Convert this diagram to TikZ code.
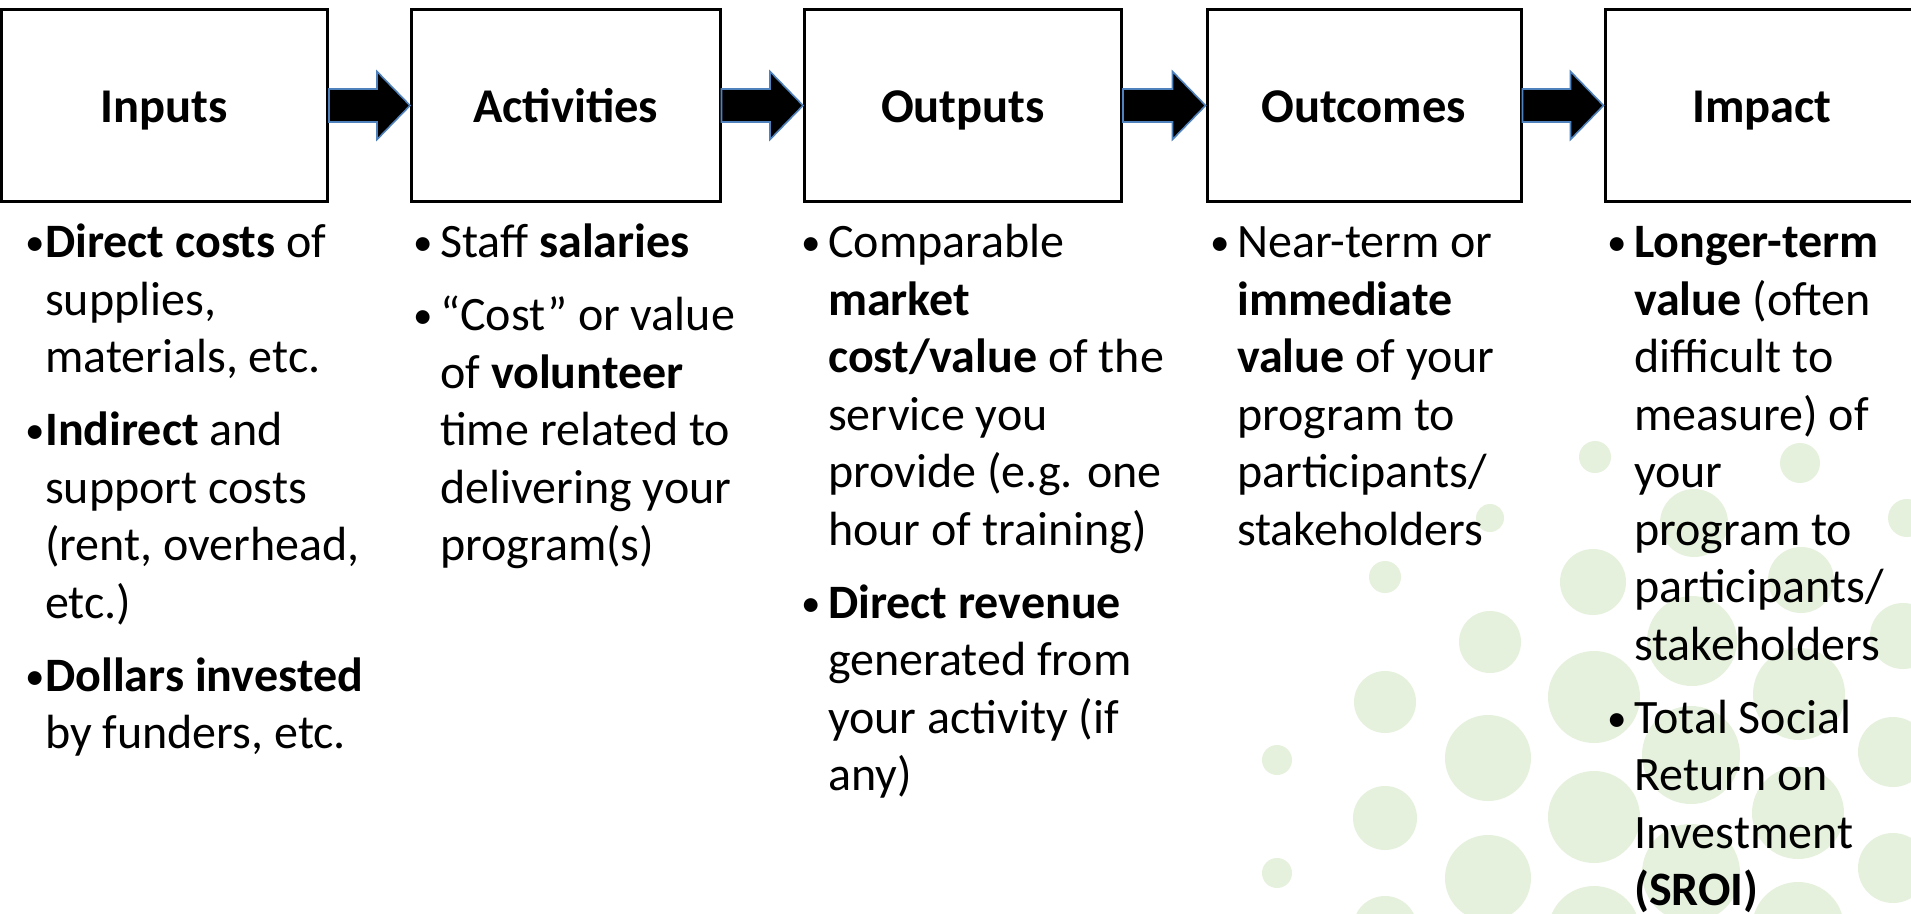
\documentclass[tikz,border=0pt]{standalone}
\usepackage{fontspec}
\setmainfont{Carlito}
\usetikzlibrary{calc}
\definecolor{dotgreen}{RGB}{229,241,220}
\definecolor{arrowblue}{RGB}{79,129,189}
\tikzset{
  stagebox/.style={draw=black, line width=3pt, fill=white, inner sep=0pt,
    text height=40pt, text depth=6pt,
    font=\bfseries\fontsize{48.5}{56}\selectfont},
  coltext/.style={anchor=north west, inner sep=0pt, align=left,
    font=\fontsize{48}{57.5}\selectfont},
  dot/.style={fill=dotgreen, draw=none},
  blockarrow/.style={fill=black, draw=arrowblue, line width=1.6pt, line join=miter},
  arrowshadow/.style={fill=black, opacity=0.25, draw=none},
}
\newcommand{\bul}[1][17]{\llap{\makebox[0pt][c]{\raisebox{2pt}{\fontsize{39}{39}\selectfont\textbullet}}\hspace{#1pt}}}
\newcommand{\flowarrow}[2]{%
  \fill[arrowshadow, shift={(2.5,4.5)}]
    ($(#1.east)+(0,-16.5)$) -- ($(#2.west)+(-33,-16.5)$) -- ($(#2.west)+(-33,-34)$)
    -- (#2.west) -- ($(#2.west)+(-33,34)$) -- ($(#2.west)+(-33,16.5)$)
    -- ($(#1.east)+(0,16.5)$) -- cycle;
  \filldraw[blockarrow]
    ($(#1.east)+(0,-16.5)$) -- ($(#2.west)+(-33,-16.5)$) -- ($(#2.west)+(-33,-34)$)
    -- (#2.west) -- ($(#2.west)+(-33,34)$) -- ($(#2.west)+(-33,16.5)$)
    -- ($(#1.east)+(0,16.5)$) -- cycle;
}
\begin{document}
\begin{tikzpicture}[x=1pt,y=-1pt]
\useasboundingbox (0,0) rectangle (1911,913);
\fill[white] (0,0) rectangle (1911,913);
% background dots
\foreach \cx/\cy/\r in {
  1277/760/15, 1277/873/15,
  1385/577/16, 1385/702/31, 1385/818/32, 1385/928/32,
  1490/518/14, 1490/642/31, 1488/758/43, 1488/878/43,
  1595/457/16, 1593/582/33, 1594/697/46, 1594/817/46, 1594/932/46,
  1694/523/34, 1692/641/45, 1691/755/49, 1691/873/49,
  1800/463/20, 1801/580/33, 1799/694/46, 1798/813/46, 1798/928/46,
  1907/518/19, 1903/636/33, 1893/752/35, 1893/868/35}
  \fill[dot] (\cx,\cy) circle[radius=\r pt];
% stage boxes
\node[stagebox, minimum width=326pt, minimum height=192pt] (inputs) at (164.5,105.5) {Inputs};
\node[stagebox, minimum width=308.5pt, minimum height=192pt] (activities) at (565.75,105.5) {Activities};
\node[stagebox, minimum width=317pt, minimum height=192pt] (outputs) at (963,105.5) {Outputs};
\node[stagebox, minimum width=314pt, minimum height=192pt] (outcomes) at (1364,105.5) {Outcomes};
\node[stagebox, minimum width=314pt, minimum height=192pt] (impact) at (1762,105.5) {Impact};
% arrows
\flowarrow{inputs}{activities}
\flowarrow{activities}{outputs}
\flowarrow{outputs}{outcomes}
\flowarrow{outcomes}{impact}
% column texts
\node[coltext] (inputstext) at (45,217.5) {%
\strut\bul[10]\textbf{Direct costs} of\\
supplies,\\
materials, etc.\\[15.5pt]
\bul[10]\textbf{Indirect} and\\
support costs\\
(rent, overhead,\\
etc.)\\[15.5pt]
\bul[10]\textbf{Dollars invested}\\
by funders, etc.};
\node[coltext] (activitiestext) at (440,217.5) {%
\strut\bul Staff \textbf{salaries}\\[15.5pt]
\bul “Cost” or value\\
of \textbf{volunteer}\\
time related to\\
delivering your\\
program(s)};
\node[coltext] (outputstext) at (828,217.5) {%
\strut\bul Comparable\\
\textbf{market}\\
\textbf{cost/value} of the\\
service you\\
provide (e.g. one\\
hour of training)\\[15.5pt]
\bul\textbf{Direct revenue}\\
generated from\\
your activity (if\\
any)};
\node[coltext] (outcomestext) at (1237,217.5) {%
\strut\bul Near-term or\\
\textbf{immediate}\\
\textbf{value} of your\\
program to\\
participants/\\
stakeholders};
\node[coltext] (impacttext) at (1634,217.5) {%
\strut\bul\textbf{Longer-term}\\
\textbf{value} (often\\
difficult to\\
measure) of\\
your\\
program to\\
participants/\\
stakeholders\\[15.5pt]
\bul Total Social\\
Return on\\
Investment\\
\textbf{(SROI)}};
\end{tikzpicture}
\end{document}
